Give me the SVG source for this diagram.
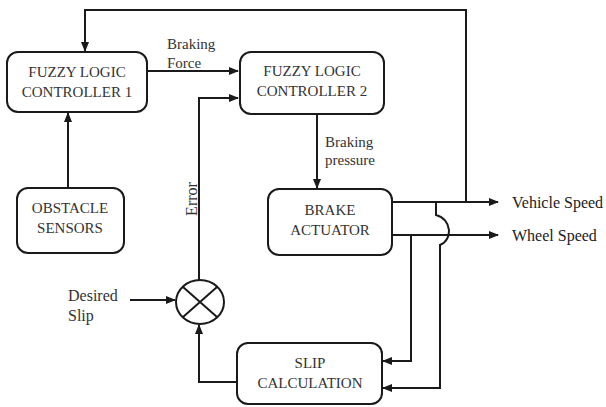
<svg xmlns="http://www.w3.org/2000/svg" width="606" height="407" viewBox="0 0 606 407">
<style>
.box{fill:#fff;stroke:#1a1a1a;stroke-width:2}
.ln{fill:none;stroke:#1a1a1a;stroke-width:2}
.t{font-family:"Liberation Serif",serif;font-size:15px;fill:#333;text-anchor:middle}
.l{font-family:"Liberation Serif",serif;font-size:15px;fill:#333}
.s{font-family:"Liberation Serif",serif;font-size:16px;fill:#222}
</style>
<defs>
<marker id="ah" markerWidth="10" markerHeight="8" refX="9" refY="4" orient="auto" markerUnits="userSpaceOnUse">
<path d="M0,0 L10,4 L0,8 Z" fill="#1a1a1a"/>
</marker>
</defs>
<rect width="606" height="407" fill="#fff"/>
<g id="connectors">
<path class="ln" d="M466,202 V10 H85 V51" marker-end="url(#ah)"/>
<path class="ln" d="M147,71 H238" marker-end="url(#ah)"/>
<path class="ln" d="M68,188 V113" marker-end="url(#ah)"/>
<path class="ln" d="M199,280 V98 H238" marker-end="url(#ah)"/>
<path class="ln" d="M130,300 H175" marker-end="url(#ah)"/>
<path class="ln" d="M237,382 H199 V325" marker-end="url(#ah)"/>
<path class="ln" d="M317,114 V188" marker-end="url(#ah)"/>
<path class="ln" d="M392,202 H498" marker-end="url(#ah)"/>
<path class="ln" d="M392,235 H498" marker-end="url(#ah)"/>
<path class="ln" d="M411,235 V361 H383" marker-end="url(#ah)"/>
<path class="ln" d="M436,202 V215 C452,219 453,240 440,245 V388 H383" marker-end="url(#ah)"/>
</g>
<g id="flc1">
<rect class="box" x="7" y="52" width="140" height="60" rx="11"/>
<text class="t" x="77" y="77">FUZZY LOGIC</text>
<text class="t" x="77" y="97">CONTROLLER 1</text>
</g>
<g id="flc2">
<rect class="box" x="240" y="52" width="144" height="62" rx="11"/>
<text class="t" x="312" y="76">FUZZY LOGIC</text>
<text class="t" x="312" y="96">CONTROLLER 2</text>
</g>
<g id="obstacle">
<rect class="box" x="17" y="188" width="107" height="65" rx="11"/>
<text class="t" x="70" y="213">OBSTACLE</text>
<text class="t" x="70" y="233">SENSORS</text>
</g>
<g id="brake">
<rect class="box" x="268" y="189" width="124" height="66" rx="11"/>
<text class="t" x="330" y="215">BRAKE</text>
<text class="t" x="330" y="235">ACTUATOR</text>
</g>
<g id="slip">
<rect class="box" x="237" y="343" width="145" height="61" rx="11"/>
<text class="t" x="310" y="368">SLIP</text>
<text class="t" x="310" y="388">CALCULATION</text>
</g>
<g id="sum">
<ellipse class="ln" cx="200" cy="302" rx="24" ry="22"/>
<path class="ln" d="M183,287 L217,317 M183,317 L217,287"/>
</g>
<g id="labels">
<text class="l" x="167" y="49">Braking</text>
<text class="l" x="167" y="68">Force</text>
<text class="l" x="325" y="147">Braking</text>
<text class="l" x="325" y="165">pressure</text>
<text class="l" x="0" y="0" text-anchor="middle" style="font-size:16px" transform="translate(197,199) rotate(-90)">Error</text>
<text class="l" x="68" y="301" style="font-size:16px">Desired</text>
<text class="l" x="68" y="321" style="font-size:16px">Slip</text>
<text class="s" x="512" y="208">Vehicle Speed</text>
<text class="s" x="512" y="241">Wheel Speed</text>
</g>
</svg>
